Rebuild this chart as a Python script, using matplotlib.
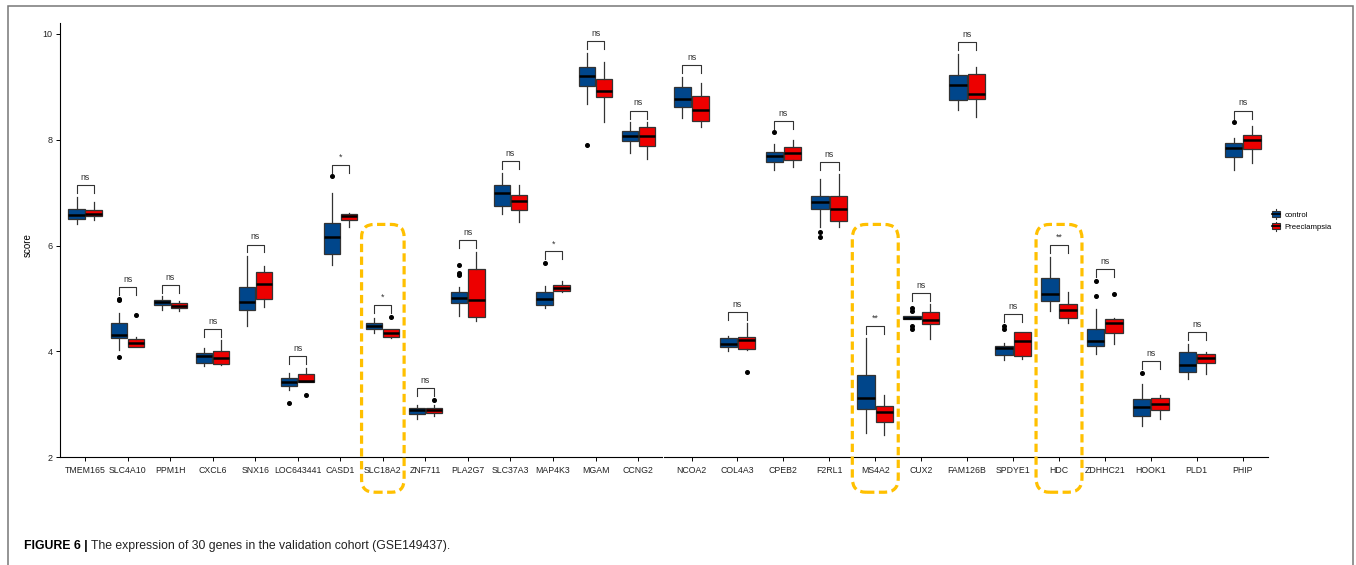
import matplotlib
matplotlib.use('Agg')
import numpy as np
import matplotlib.pyplot as plt
from matplotlib.patches import Rectangle, FancyBboxPatch
from matplotlib.lines import Line2D
from matplotlib.legend_handler import HandlerBase

plt.rcParams['font.family'] = ['Liberation Sans', 'DejaVu Sans']

BLUE = '#00468B'
RED = '#ED0000'
YELLOW = '#FFC000'

# ---- datos: (whisker bajo, q1, mediana, q3, whisker alto) ----
left_genes = ['TMEM165', 'SLC4A10', 'PPM1H', 'CXCL6', 'SNX16', 'LOC643441', 'CASD1',
              'SLC18A2', 'ZNF711', 'PLA2G7', 'SLC37A3', 'MAP4K3', 'MGAM', 'CCNG2']
ctrl_left = [(6.40, 6.51, 6.57, 6.70, 6.92), (4.02, 4.26, 4.32, 4.53, 4.72),
             (4.79, 4.87, 4.93, 4.98, 5.04), (3.73, 3.79, 3.91, 3.97, 4.06),
             (4.49, 4.79, 4.94, 5.22, 5.80), (3.28, 3.35, 3.42, 3.49, 3.60),
             (5.63, 5.85, 6.17, 6.42, 7.00), (4.34, 4.43, 4.48, 4.54, 4.64),
             (2.73, 2.82, 2.89, 2.93, 2.98), (4.67, 4.92, 5.01, 5.13, 5.22),
             (6.60, 6.74, 7.00, 7.14, 7.37), (4.82, 4.88, 5.00, 5.12, 5.23),
             (8.67, 9.02, 9.21, 9.37, 9.64), (7.75, 7.98, 8.08, 8.16, 8.33)]
pre_left = [(6.48, 6.55, 6.60, 6.67, 6.83), (4.08, 4.09, 4.16, 4.23, 4.28),
            (4.77, 4.82, 4.85, 4.92, 4.95), (3.75, 3.77, 3.87, 4.00, 4.21),
            (4.84, 5.00, 5.28, 5.50, 5.62), (3.43, 3.43, 3.45, 3.58, 3.69),
            (6.36, 6.49, 6.55, 6.60, 6.62), (4.26, 4.28, 4.34, 4.42, 4.43),
            (2.78, 2.84, 2.90, 2.94, 2.98), (4.57, 4.65, 4.98, 5.56, 5.88),
            (6.44, 6.67, 6.84, 6.96, 7.14), (5.13, 5.15, 5.20, 5.26, 5.33),
            (8.33, 8.80, 8.93, 9.15, 9.46), (7.64, 7.89, 8.08, 8.25, 8.33)]
ctrl_left_out = [[], [5.00, 4.97, 3.89], [], [], [], [3.03], [7.31], [], [],
                 [5.64, 5.48, 5.45], [], [5.67], [7.91], []]
pre_left_out = [[], [4.69], [], [], [], [3.17], [], [4.65], [3.09], [], [], [], [], []]
sig_left = ['ns', 'ns', 'ns', 'ns', 'ns', 'ns', '*', '*', 'ns', 'ns', 'ns', '*', 'ns', 'ns']

right_genes = ['NCOA2', 'COL4A3', 'CPEB2', 'F2RL1', 'MS4A2', 'CUX2', 'FAM126B',
               'SPDYE1', 'HDC', 'ZDHHC21', 'HOOK1', 'PLD1', 'PHIP']
ctrl_right = [(8.42, 8.62, 8.77, 8.99, 9.19), (4.01, 4.09, 4.15, 4.26, 4.30),
              (7.42, 7.58, 7.70, 7.77, 7.92), (6.36, 6.69, 6.82, 6.94, 7.26),
              (2.45, 2.92, 3.12, 3.55, 4.26), (4.62, 4.62, 4.64, 4.67, 4.67),
              (8.57, 8.75, 9.04, 9.23, 9.62), (3.83, 3.94, 4.06, 4.11, 4.16),
              (4.76, 4.95, 5.08, 5.38, 5.79), (3.96, 4.10, 4.19, 4.42, 4.81),
              (2.59, 2.78, 2.95, 3.11, 3.38), (3.47, 3.61, 3.74, 3.99, 4.15),
              (7.42, 7.68, 7.85, 7.94, 8.03)]
pre_right = [(8.25, 8.35, 8.57, 8.82, 9.08), (4.02, 4.05, 4.21, 4.28, 4.53),
             (7.48, 7.61, 7.75, 7.87, 7.99), (6.36, 6.46, 6.70, 6.94, 7.36),
             (2.43, 2.67, 2.85, 2.97, 3.17), (4.24, 4.51, 4.59, 4.75, 4.89),
             (8.43, 8.77, 8.87, 9.25, 9.37), (3.85, 3.91, 4.19, 4.37, 4.37),
             (4.53, 4.64, 4.79, 4.90, 5.13), (4.15, 4.34, 4.53, 4.62, 4.64),
             (2.72, 2.89, 3.00, 3.12, 3.18), (3.58, 3.79, 3.88, 3.96, 3.99),
             (7.56, 7.83, 8.00, 8.09, 8.26)]
ctrl_right_out = [[], [], [8.14], [6.26, 6.16], [], [4.82, 4.76, 4.49, 4.43], [],
                  [4.49, 4.43], [], [5.33, 5.04], [3.60], [], [8.33]]
pre_right_out = [[], [3.61], [], [], [], [], [], [], [], [5.09], [], [], []]
sig_right = ['ns', 'ns', 'ns', 'ns', '**', 'ns', 'ns', 'ns', '**', 'ns', 'ns', 'ns', 'ns']

highlight = ['SLC18A2', 'MS4A2', 'HDC']

W, H = 1356, 565
fig = plt.figure(figsize=(W / 100, H / 100), dpi=100)
ax1 = fig.add_axes([59.5 / W, 1 - 457.3 / H, 602 / W, 434 / H])
ax2 = fig.add_axes([664 / W, 1 - 457.3 / H, 604 / W, 434 / H])


def panel(ax, genes, ctrl, pre, ctrl_out, pre_out, sig, aspect):
    pos = np.arange(len(genes))
    for stats, outs, off, col in ((ctrl, ctrl_out, -0.2, BLUE), (pre, pre_out, 0.2, RED)):
        bx = [dict(whislo=s[0], q1=s[1], med=s[2], q3=s[3], whishi=s[4], fliers=o)
              for s, o in zip(stats, outs)]
        ax.bxp(bx, positions=pos + off, widths=0.38, patch_artist=True, showcaps=False,
               manage_ticks=False,
               boxprops=dict(facecolor=col, edgecolor='#333333', linewidth=0.9),
               medianprops=dict(color='black', linewidth=1.8),
               whiskerprops=dict(color='#333333', linewidth=0.9),
               flierprops=dict(marker='o', markerfacecolor='black', markeredgecolor='black',
                               markersize=2.6))
    for i in pos:
        top = max([ctrl[i][4], pre[i][4]] + ctrl_out[i] + pre_out[i]) + 0.22
        ax.plot([i - 0.2, i - 0.2, i + 0.2, i + 0.2], [top - 0.15, top, top, top - 0.15],
                color='#333333', lw=0.8)
        ax.text(i, top + 0.06, sig[i], ha='center', va='bottom', fontsize=6.3, color='#333333')
    for g in highlight:
        if g in genes:
            i = genes.index(g)
            box = FancyBboxPatch((i - 0.5, 1.34), 1.0, 5.06,
                                 boxstyle='round,pad=0,rounding_size=0.3',
                                 mutation_aspect=aspect, fill=False, edgecolor=YELLOW,
                                 lw=2.3, linestyle=(0, (2.6, 1.4)), clip_on=False, zorder=5)
            ax.add_patch(box)
    ax.set_xticks(pos, genes)
    ax.set_xlim(-0.6, len(genes) - 0.45)
    ax.set_ylim(2, 10.2)
    for s in ('top', 'right'):
        ax.spines[s].set_visible(False)
    ax.tick_params(axis='x', labelsize=6.3, labelcolor='#222222', length=3, width=0.7, pad=3)
    ax.spines['bottom'].set_linewidth(0.8)


panel(ax1, left_genes, ctrl_left, pre_left, ctrl_left_out, pre_left_out, sig_left, 0.8)
panel(ax2, right_genes, ctrl_right, pre_right, ctrl_right_out, pre_right_out, sig_right, 0.87)

ax1.set_yticks([2, 4, 6, 8, 10])
ax1.tick_params(axis='y', labelsize=6.5, labelcolor='#222222', length=3, width=0.7, pad=2)
ax1.spines['left'].set_linewidth(0.8)
ax1.set_ylabel('score', fontsize=7)
ax1.yaxis.set_label_coords(-0.044, 0.49)
ax2.spines['left'].set_visible(False)
ax2.set_yticks([])


class BoxKey(HandlerBase):
    def create_artists(self, legend, orig, xd, yd, width, height, fontsize, trans):
        cx = width / 2 - xd
        wl = Line2D([cx, cx], [-0.25 * height - yd, 1.25 * height - yd], color='#333333',
                    lw=0.8, transform=trans)
        r = Rectangle((-xd, 0.05 * height - yd), width, 0.9 * height,
                      facecolor=orig.get_facecolor(), edgecolor='#333333', lw=0.8,
                      transform=trans)
        md = Line2D([-xd, width - xd], [0.5 * height - yd] * 2, color='black', lw=1.2,
                    transform=trans)
        return [wl, r, md]


h1 = Rectangle((0, 0), 1, 1, facecolor=BLUE)
h2 = Rectangle((0, 0), 1, 1, facecolor=RED)
fig.legend([h1, h2], ['control', 'Preeclampsia'], handler_map={Rectangle: BoxKey()},
           loc='center left', bbox_to_anchor=(1272 / W, 1 - 221 / H), frameon=False,
           fontsize=5.6, handlelength=1.0, handleheight=0.9, handletextpad=0.6,
           labelspacing=0.55, borderpad=0, borderaxespad=0)

# marco de la figura
fig.add_artist(Rectangle((8 / W, -0.1), 1345 / W, 1.1 - 6 / H, transform=fig.transFigure,
                         fill=False, edgecolor='#777777', lw=1.1, clip_on=False))

cap_fam = ['Liberation Sans Narrow', 'Liberation Sans', 'DejaVu Sans']
t1 = fig.text(24 / W, 1 - 549 / H, 'FIGURE 6 |', fontsize=8.8, fontweight='bold',
              family=cap_fam, va='baseline')
fig.canvas.draw()
bb = t1.get_window_extent()
fig.text((bb.x1 + 3) / W, 1 - 549 / H,
         'The expression of 30 genes in the validation cohort (GSE149437).',
         fontsize=8.8, family=cap_fam, va='baseline', color='#222222')

fig.savefig('out.png', dpi=100)
